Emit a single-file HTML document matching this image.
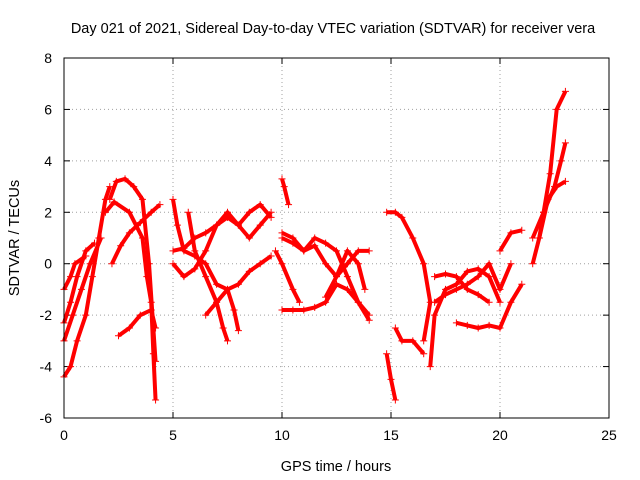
<!DOCTYPE html>
<html><head><meta charset="utf-8"><style>
body{margin:0;background:#fff}
svg{display:block;font-family:"Liberation Sans",sans-serif}
</style></head><body>
<svg id="chart" width="640" height="480" viewBox="0 0 640 480">
<rect width="640" height="480" fill="#fff"/>
<text x="333" y="33" font-size="14.5" text-anchor="middle">Day 021 of 2021, Sidereal Day-to-day VTEC variation (SDTVAR) for receiver vera</text>
<text x="336" y="471" font-size="14.5" text-anchor="middle">GPS time / hours</text>
<text transform="translate(19,238) rotate(-90)" font-size="14.5" text-anchor="middle">SDTVAR / TECUs</text>
<g id="grid"></g><g id="ticks"></g><g id="series"></g>
<rect x="64" y="58" width="545" height="360" fill="none" stroke="#000" stroke-width="1"/>
</svg>
<script>
const xTicks=[0,5,10,15,20,25];
const yTicks=[-6,-4,-2,0,2,4,6,8];
const track1=[[0,-4.4],[0.3,-4],[0.6,-3],[1,-2],[1.3,-0.5],[1.6,1],[1.9,2.5],[2.1,3]];
const track2=[[0,-3],[0.4,-2],[0.8,-1],[1.2,0],[1.7,1]];
const track3=[[0,-2.3],[0.3,-1.5],[0.6,-0.5],[1,0.5],[1.4,0.8]];
const track4=[[0,-1],[0.3,-0.5],[0.5,0],[1,0.3]];
const track5=[[2.1,2.5],[2.4,3.2],[2.8,3.3],[3.2,3],[3.6,2.5],[3.9,0],[4.2,-3.8]];
const track6=[[1.9,2],[2.3,2.4],[3,2],[3.6,1],[3.8,-0.5],[4,-1.5],[4.1,-3.5],[4.2,-5.3]];
const track7=[[2.5,-2.8],[3,-2.5],[3.5,-2],[4,-1.8],[4.2,-2.5]];
const track8=[[2.2,0],[2.6,0.7],[3,1.2],[3.5,1.6],[4,2],[4.4,2.3]];
const track9=[[5,2.5],[5.2,1.5],[5.5,0.5],[6,0.3],[6.5,0],[7,-0.8],[7.5,-1],[8,-0.8],[8.5,-0.3],[9,0],[9.5,0.3]];
const track10=[[5,0.5],[5.5,0.6],[6,1],[6.5,1.2],[7,1.5],[7.5,2],[8,1.5],[8.5,1],[9,1.5],[9.5,2]];
const track11=[[5,0],[5.5,-0.5],[6,-0.2],[6.5,0.5],[7,1.5],[7.5,1.8],[8,1.5],[8.5,2],[9,2.3],[9.5,1.8]];
const track12=[[6.5,-2],[7,-1.5],[7.5,-1],[7.8,-1.8],[8,-2.6]];
const track13=[[5.7,2],[6,0.5],[6.5,-0.5],[7,-1.5],[7.3,-2.5],[7.5,-3]];
const track14=[[10,3.3],[10.1,3],[10.3,2.3]];
const track15=[[10,1],[10.5,0.8],[11,0.5],[11.5,0.7],[12,0],[12.5,-0.5],[13,0],[13.5,0.5],[14,0.5]];
const track16=[[10,-1.8],[10.5,-1.8],[11,-1.8],[11.5,-1.7],[12,-1.5],[12.5,-0.8],[13,-1],[13.5,-1.5],[14,-2.2]];
const track17=[[9.7,0.5],[10,0],[10.5,-1],[10.8,-1.5]];
const track18=[[10,1.2],[10.5,1],[11,0.5],[11.5,1],[12,0.8],[12.5,0.5],[13,-0.5],[13.5,-1.5],[14,-2]];
const track19=[[12,-1.3],[12.5,-0.5],[13,0.5],[13.5,0],[13.8,-1]];
const track20=[[14.8,2],[15.2,2],[15.5,1.8],[16,1],[16.5,0],[16.8,-1.5],[16.5,-3]];
const track21=[[14.8,-3.5],[15,-4.5],[15.2,-5.3]];
const track22=[[15.2,-2.5],[15.5,-3],[16,-3],[16.5,-3.5]];
const track23=[[16.8,-4],[17,-2],[17.5,-1],[18,-0.8],[18.5,-0.3],[19,-0.2],[19.5,-0.5],[20,-1.5]];
const track24=[[17,-0.5],[17.5,-0.4],[18,-0.5],[18.5,-1],[19,-1.2],[19.5,-1.5]];
const track25=[[18,-2.3],[18.5,-2.4],[19,-2.5],[19.5,-2.4],[20,-2.5],[20.5,-1.5],[21,-0.8]];
const track26=[[17,-1.5],[17.5,-1.2],[18,-1],[18.5,-0.8],[19,-0.5],[19.5,0],[20,-1],[20.5,0]];
const track27=[[20,0.5],[20.5,1.2],[21,1.3]];
const track28=[[21.5,0],[21.8,1],[22,2],[22.3,3.5],[22.6,6],[23,6.7]];
const track29=[[21.5,1],[22,2],[22.5,3],[22.8,4],[23,4.7]];
const track30=[[21.8,1],[22.2,2.5],[22.6,3],[23,3.2]];
const tracks=[track1,track2,track3,track4,track5,track6,track7,track8,track9,track10,track11,track12,track13,track14,track15,track16,track17,track18,track19,track20,track21,track22,track23,track24,track25,track26,track27,track28,track29,track30];

const NS="http://www.w3.org/2000/svg";
const X0=64,X1=609,Y0=418,Y1=58,xmin=0,xmax=25,ymin=-6,ymax=8;
const sx=v=>X0+(v-xmin)/(xmax-xmin)*(X1-X0);
const sy=v=>Y0-(v-ymin)/(ymax-ymin)*(Y0-Y1);
function mk(tag,attrs,parent){const e=document.createElementNS(NS,tag);for(const k in attrs)e.setAttribute(k,attrs[k]);parent.appendChild(e);return e;}
const grid=document.getElementById('grid'),ticks=document.getElementById('ticks'),ser=document.getElementById('series');
xTicks.forEach(t=>{const x=sx(t);
 if(t>xmin&&t<xmax){const g=mk('line',{x1:x,x2:x,y1:Y1,y2:Y0,stroke:'#a0a0a0','stroke-dasharray':'1,3'},grid);
 
 }
 mk('line',{x1:x,x2:x,y1:Y0,y2:Y0-6,stroke:'#000'},ticks);
 mk('line',{x1:x,x2:x,y1:Y1,y2:Y1+6,stroke:'#000'},ticks);
 const l=mk('text',{x:x,y:Y0+22,'font-size':14,'text-anchor':'middle'},ticks);l.textContent=t;
 
 
});
yTicks.forEach(t=>{const y=sy(t);
 if(t>ymin&&t<ymax){const g=mk('line',{x1:X0,x2:X1,y1:y,y2:y,stroke:'#a0a0a0','stroke-dasharray':'1,3'},grid);
 
 }
 mk('line',{x1:X0,x2:X0+6,y1:y,y2:y,stroke:'#000'},ticks);
 mk('line',{x1:X1,x2:X1-6,y1:y,y2:y,stroke:'#000'},ticks);
 const l=mk('text',{x:X0-12,y:y+5,'font-size':14,'text-anchor':'end'},ticks);l.textContent=t;
 
 
});
tracks.forEach((tr,i)=>{
 const p=mk('polyline',{points:tr.map(d=>sx(d[0])+','+sy(d[1])).join(' '),fill:'none',stroke:'#f00','stroke-width':4,'stroke-linejoin':'round'},ser);
 
 
 tr.forEach(d=>{const x=sx(d[0]),y=sy(d[1]);
  const m=mk('path',{d:`M${x-3.5},${y}H${x+3.5}M${x},${y-3.5}V${y+3.5}`,stroke:'#f00','stroke-width':1},ser);
  
  
 });
});
</script>
</body></html>
